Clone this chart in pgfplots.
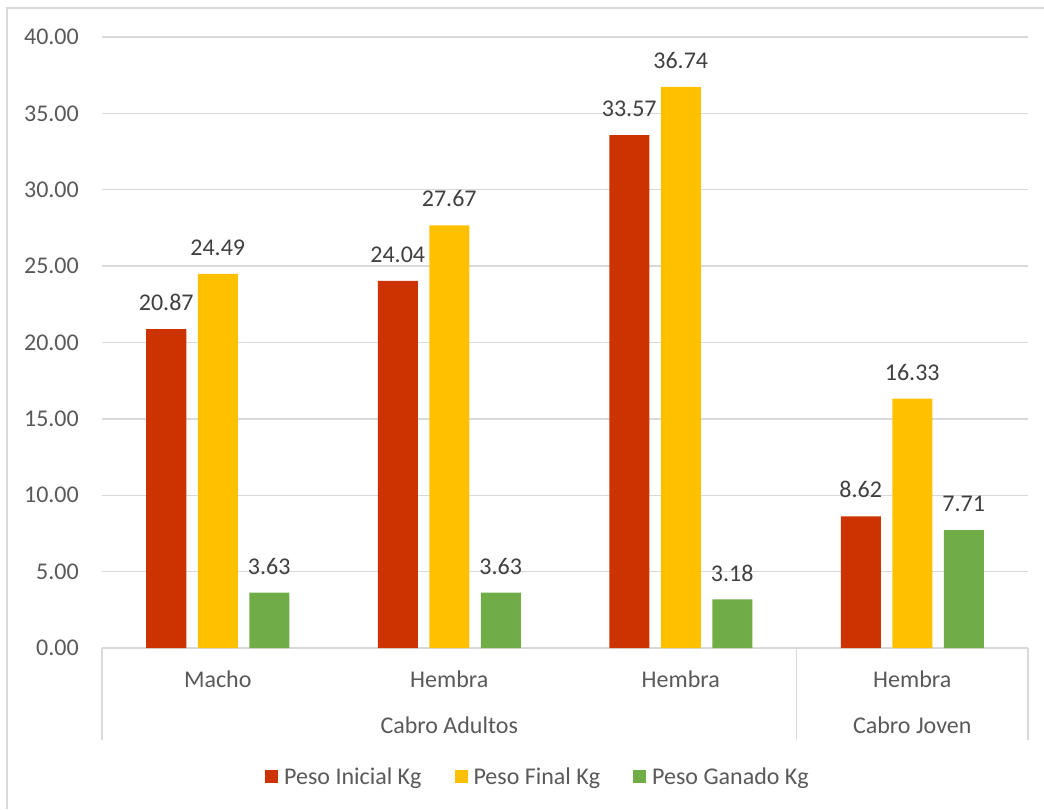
\documentclass[border=0pt]{standalone}
\usepackage{fontspec}
\setmainfont{Carlito}
\usepackage{pgfplots}
\pgfplotsset{compat=1.18}

\definecolor{inicial}{HTML}{CC3300}
\definecolor{final}{HTML}{FFC000}
\definecolor{ganado}{HTML}{70AD47}
\definecolor{gridgray}{HTML}{D9D9D9}
\definecolor{labelgray}{HTML}{595959}
\definecolor{valuegray}{HTML}{404040}

\begin{document}
\begin{tikzpicture}[font=\fontsize{24}{29}\selectfont]
\useasboundingbox (0,0) rectangle (1044pt,809pt);
% chart area frame
\draw[gridgray, line width=1.3pt] (7pt,0pt) -- (7pt,801pt) -- (1044pt,801pt);
\begin{axis}[
  at={(102pt,161pt)}, anchor=south west,
  scale only axis, width=926pt, height=611pt,
  xmin=0, xmax=4, ymin=0, ymax=40,
  ybar=11.5pt, bar width=40pt,
  clip=false,
  axis x line*=bottom, axis y line*=left,
  y axis line style={draw=none},
  x axis line style={gridgray, line width=1.3pt},
  major tick length=0pt,
  ymajorgrids,
  major grid style={gridgray, line width=1.3pt},
  ytick={0,5,...,40},
  /pgf/number format/assume math mode=true,
  yticklabel={\pgfmathprintnumber[fixed,fixed zerofill,precision=2]{\tick}},
  yticklabel style={anchor=east, inner sep=0pt, xshift=-23pt, text=labelgray},
  xtick={0.5,1.5,2.5,3.5},
  xticklabels={Macho,Hembra,Hembra,Hembra},
  xticklabel style={anchor=base, inner sep=0pt, yshift=-39pt, text=labelgray},
  nodes near coords={\pgfmathprintnumber[fixed,fixed zerofill,precision=2]{\pgfplotspointmeta}},
  every node near coord/.append style={anchor=south, inner sep=0pt, yshift=18pt, text=valuegray},
  legend columns=3,
  legend image code/.code={\draw[#1,draw=none] (0pt,-6.5pt) rectangle (13pt,6.5pt);},
  legend style={
    at={(0.176,-0.2103)}, anchor=west, draw=none, fill=none,
    inner sep=0pt, column sep=0pt,
    nodes={inner sep=0pt, text=labelgray},
    /tikz/every odd column/.append style={column sep=6pt},
    /tikz/every even column/.append style={column sep=33pt},
  },
]
\addplot[fill=inicial, draw=none] coordinates {(0.5,20.87) (1.5,24.04) (2.5,33.57) (3.5,8.62)};
\addplot[fill=final, draw=none] coordinates {(0.5,24.49) (1.5,27.67) (2.5,36.74) (3.5,16.33)};
\addplot[fill=ganado, draw=none] coordinates {(0.5,3.63) (1.5,3.63) (2.5,3.18) (3.5,7.71)};
\legend{Peso Inicial Kg, Peso Final Kg, Peso Ganado Kg}

% group separators of the two-level category axis
\draw[gridgray, line width=1.3pt] (axis cs:0,0) -- ++(0pt,-92pt);
\draw[gridgray, line width=1.3pt] (axis cs:3,0) -- ++(0pt,-92pt);
\draw[gridgray, line width=1.3pt] (axis cs:4,0) -- ++(0pt,-92pt);
\node[anchor=base, inner sep=0pt, text=labelgray, yshift=-85pt] at (axis cs:1.5,0) {Cabro Adultos};
\node[anchor=base, inner sep=0pt, text=labelgray, yshift=-85pt] at (axis cs:3.5,0) {Cabro Joven};
\end{axis}
\end{tikzpicture}
\end{document}
